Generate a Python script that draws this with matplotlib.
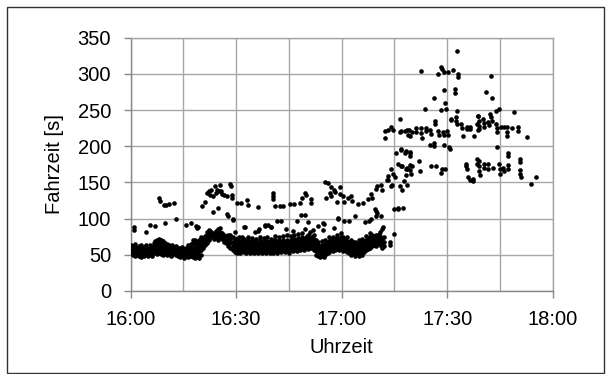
import matplotlib
matplotlib.use("Agg")
import matplotlib.pyplot as plt
from matplotlib.patches import Rectangle
import datetime as dt

# ---------------- data (minutes after 16:00, travel time in s) ----------------
# lower band: stacked measurements (minute, list of travel times)
lower_t = [0.2, 0.7, 1.2, 1.8, 2.3, 2.9, 3.4, 3.9, 4.4, 5.0, 5.5, 6.0, 6.6, 7.1, 7.6, 8.2, 8.7, 9.2,
           9.8, 10.3, 10.8, 11.4, 11.9, 12.5, 13.0, 13.5, 14.1, 14.6, 15.2, 15.7, 16.3, 16.8, 17.3,
           17.9, 18.4, 19.0, 19.5, 20.0, 20.6, 21.2, 21.8, 22.4, 23.0, 23.6, 24.2, 24.8, 25.4, 26.0,
           26.6, 27.2, 27.8, 28.4, 29.0, 29.6, 30.2, 30.7, 31.2, 31.8, 32.3, 32.9, 33.4, 34.0, 34.5,
           35.1, 35.6, 36.2, 36.7, 37.3, 37.8, 38.4, 38.9, 39.5, 40.0, 40.6, 41.1, 41.7, 42.2, 42.8,
           43.3, 43.9, 44.4, 45.0, 45.5, 46.1, 46.6, 47.2, 47.7, 48.3, 48.8, 49.4, 49.9, 50.5, 51.0,
           51.6, 52.1, 52.7, 53.2, 53.8, 54.3, 54.9, 55.4, 56.0, 56.5, 57.1, 57.6, 58.2, 58.7, 59.3,
           59.8, 60.4, 60.9, 61.5, 62.0, 62.6, 63.1, 63.7, 64.2, 64.8, 65.3, 65.9, 66.4, 67.0, 67.5,
           68.1, 68.6, 69.2, 69.7, 70.3, 70.8, 71.4, 71.9, 73.6, 74.9]
lower_v = [[52, 56, 60, 63], [50, 54, 58, 62], [49, 53, 57, 61, 65], [50, 55, 59], [48, 52, 57, 62],
           [47, 51, 56, 60, 64], [50, 54, 58], [49, 53, 57, 61], [51, 56, 60, 64], [48, 53, 58],
           [50, 55, 60, 63], [49, 53, 57, 61], [52, 57, 62, 66], [54, 59, 64, 69], [51, 56, 61, 66, 70],
           [52, 57, 62, 68, 72], [51, 55, 60, 65, 70], [50, 54, 59, 64, 69], [52, 56, 61, 66],
           [50, 55, 60, 65], [51, 56, 61, 64], [49, 53, 58, 62], [50, 55, 60, 63], [52, 57, 61],
           [50, 54, 58, 62], [48, 53, 57, 60], [47, 51, 55, 59], [49, 53, 57, 61], [46, 50, 54, 58],
           [48, 52, 56, 60], [47, 51, 55, 59, 63], [49, 53, 57, 62], [48, 52, 57, 61, 65],
           [47, 51, 55, 60, 66, 70], [46, 50, 55, 60, 65, 70], [48, 53, 58, 63, 68],
           [45, 50, 55, 60, 65, 70], [50, 56, 62, 68, 74], [60, 66, 72], [64, 70, 76], [66, 72, 78, 82],
           [70, 76, 80, 84], [74, 78, 82], [72, 77, 80], [75, 79, 83], [70, 76, 80, 86], [74, 78, 82],
           [72, 76, 80], [68, 74, 78], [66, 72, 76], [62, 68, 74, 78], [60, 66, 72, 77], [56, 62, 68, 74],
           [54, 60, 66, 72], [53, 57, 62, 67, 72], [54, 59, 64, 69, 74], [53, 58, 63, 68],
           [55, 60, 65, 70, 75], [54, 58, 63, 68, 72], [53, 57, 62, 67], [55, 60, 65, 70, 74],
           [53, 58, 63, 68], [54, 59, 64, 69, 73], [52, 57, 62, 67], [54, 58, 63, 68, 72],
           [53, 57, 62, 66], [55, 60, 65, 70, 75], [53, 58, 62, 67], [54, 59, 64, 69, 73],
           [52, 57, 61, 66], [55, 60, 64, 69, 74], [53, 57, 62, 67], [54, 59, 63, 68, 72],
           [52, 57, 62, 66, 71], [55, 60, 65, 70, 76], [53, 58, 63, 68], [55, 60, 65, 70, 74],
           [54, 58, 63, 67], [56, 61, 66, 71, 76], [54, 59, 64, 68], [55, 60, 65, 70, 78],
           [53, 58, 63, 68], [56, 61, 66, 71, 76], [55, 60, 65, 70], [57, 62, 67, 72, 77],
           [55, 60, 66, 71], [58, 63, 68, 73, 79], [56, 61, 66, 72], [58, 63, 69, 74, 80],
           [57, 62, 67, 72], [59, 64, 69, 75], [58, 63, 68, 73, 78], [60, 65, 70, 75, 81],
           [59, 64, 69, 74], [57, 62, 67, 72, 78], [50, 55, 60, 65, 70], [48, 53, 58, 63, 68],
           [47, 52, 57, 62], [49, 54, 59, 64, 69], [47, 52, 57, 62], [50, 55, 60, 65, 70],
           [52, 57, 62, 67], [54, 59, 64, 69, 74], [56, 61, 66, 71], [55, 60, 65, 70, 75],
           [57, 62, 67, 72], [58, 63, 68, 73, 78], [56, 61, 66, 71], [58, 63, 68, 74, 80],
           [55, 60, 65, 70, 75], [57, 62, 67, 72], [54, 59, 64, 69, 74], [52, 57, 62, 67],
           [50, 55, 60, 65, 70], [53, 58, 63, 68], [48, 53, 58, 63, 68], [51, 56, 61, 66],
           [48, 53, 58, 63, 70], [52, 57, 62, 67], [50, 55, 60, 65, 72], [54, 59, 64, 69],
           [56, 61, 66, 71, 76], [58, 63, 68, 73], [60, 65, 70, 75, 80], [62, 67, 72, 77],
           [64, 70, 76], [62, 68, 74, 78], [66, 72, 78], [64, 70, 76, 82], [60, 66, 72], [62, 68, 74],
           [63, 67], [79]]

# middle band (about 80-115 s)
mid_t = [1.0, 1.05, 4.3, 5.5, 6.9, 9.9, 12.9, 15.9, 17.3, 18.7, 19.2, 18.9, 22.5, 22.6, 25.4, 29.8,
         32.2, 32.5, 35.5, 36.1, 36.6, 38.1, 38.2, 39.0, 39.9, 23.5, 24.9, 27.5, 27.6, 29.1, 29.2,
         40.0, 41.5, 42.9, 44.3, 46.3, 47.4, 48.5, 49.7, 50.5, 49.5, 51.9, 53.3, 54.7, 54.7, 57.8,
         59.0, 59.0, 60.8, 62.2, 63.7, 66.5, 67.9, 69.4, 69.8, 69.8, 71.7, 71.5, 75.0, 75.9, 76.1,
         77.4, 55.0, 68.4, 70.1, 71.2]
mid_v = [88, 84, 82, 91, 90, 94, 99, 91, 94, 90, 88, 87, 83, 80, 87, 81,
         88, 89, 82, 83, 85, 91, 90, 91, 88, 109, 115, 106, 104, 100, 98,
         88, 97, 96, 86, 83, 97, 105, 105, 95, 85, 84, 90, 94, 84, 87,
         99, 101, 97, 97, 104, 95, 97, 113, 111, 104, 88, 86, 113, 113, 114,
         114, 92, 99, 108, 103]

# upper band before 17:20 (about 115-200 s)
up_t = [8.1, 8.3, 9.5, 10.9, 12.4, 10.2,
        20.2, 21.3, 21.6, 22.3, 22.7, 23.0, 23.5, 24.0, 24.2, 24.5, 25.1, 25.4, 25.7, 26.0, 26.5,
        27.3, 28.4, 28.5, 28.8, 28.9, 30.3, 31.5, 33.2, 33.4, 36.2,
        40.5, 40.5, 40.6, 41.0, 42.4, 43.3, 45.2, 46.5, 48.1, 48.6, 49.7, 49.8, 51.2, 51.2,
        55.2, 56.1, 56.6, 57.0, 57.1, 57.9, 58.0, 58.7, 55.6,
        59.4, 59.4, 60.4, 60.8, 61.7, 62.7, 62.8, 64.6, 66.1, 67.5, 68.4, 68.6, 69.8, 70.0, 71.2, 71.5,
        73.1, 73.1, 74.1, 74.3, 74.5, 76.0, 76.5, 77.0, 78.3, 78.3, 78.5,
        72.8, 73.9, 75.2, 77.2, 77.7, 78.6,
        75.5, 76.9, 78.3, 77.0, 79.4, 78.0, 77.2, 78.6, 79.9]
up_v = [128, 124, 119, 120, 122, 119,
        118, 123, 136, 138, 133, 139, 131, 145, 136, 140, 138, 147, 138, 134, 132,
        131, 148, 145, 133, 128, 122, 122, 126, 119, 116,
        136, 131, 127, 118, 118, 118, 120, 120, 122, 128, 136, 132, 127, 122,
        151, 149, 136, 144, 131, 140, 137, 123, 129,
        143, 134, 131, 123, 129, 131, 125, 120, 122, 127, 134, 129, 141, 145, 147, 140,
        159, 154, 168, 147, 161, 175, 145, 173, 168, 160, 170,
        154, 145, 158, 140, 152, 147,
        191, 196, 194, 195, 191, 190, 172, 168, 172]

# congested band 17:12-17:55 (about 210-250 s)
jam_t = [72.2, 72.2, 73.1, 74.1, 74.5, 76.5, 76.6, 77.0, 77.9, 78.5, 78.8,
         79.2, 79.4, 80.0, 81.0, 81.2, 82.5, 82.6, 82.8, 84.0, 84.1, 85.0, 85.3, 86.5, 86.6, 87.5,
         87.6, 88.8, 89.0, 90.0, 90.1, 91.0, 91.2, 92.5, 92.6, 92.7, 94.0, 94.2, 94.5, 95.5, 95.7,
         96.5, 96.6, 97.5, 98.6, 98.7,
         98.8, 98.9, 99.0, 99.0, 100.3, 100.4, 100.4, 101.7, 101.8, 102.2, 102.4, 102.6, 104.0,
         104.1, 104.1, 105.2, 106.0, 107.0, 107.1, 107.1, 108.4, 110.0, 110.1, 112.7]
jam_v = [212, 221, 223, 226, 223, 237, 219, 221, 221, 223, 216,
         223, 214, 219, 225, 220, 225, 218, 211, 225, 221, 222, 217, 235, 230, 221,
         216, 220, 216, 221, 216, 238, 236, 240, 235, 230, 230, 225, 214, 226, 224,
         227, 224, 214, 230, 222,
         242, 235, 228, 224, 237, 232, 227, 233, 229, 244, 240, 235, 230,
         225, 220, 227, 227, 226, 220, 214, 225, 226, 221, 213]

# peak values (above 245 s)
peak_t = [82.6, 87.3, 88.3, 88.4, 89.2, 90.2, 91.6, 93.0, 93.1, 92.8, 89.2, 92.1, 92.1, 86.2, 89.5,
          83.7, 88.3, 89.7, 92.8, 98.7, 102.3, 101.0, 102.7, 104.6, 104.0, 108.9]
peak_v = [304, 300, 310, 307, 303, 302, 305, 300, 296, 332, 277, 279, 273, 266, 260,
          251, 250, 251, 248, 242, 297, 275, 267, 251, 249, 247]

# second band after 17:18 (about 150-205 s)
low2_t = [79.3, 79.4, 79.3, 79.5, 79.6, 82.0, 82.4, 85.0, 86.2, 86.3, 85.3, 86.8, 88.3, 88.4, 89.5,
          89.2, 90.6, 90.8, 95.3, 95.4, 95.5, 96.0, 96.5, 97.2, 97.3, 98.5, 98.6,
          104.2, 107.2, 107.3, 110.6, 110.7, 99.0, 99.1, 99.1, 99.2, 100.4, 100.5, 101.5, 101.6,
          103.0, 104.8, 104.9, 104.9, 105.9, 106.0, 107.3, 107.4, 110.7, 110.8, 110.9, 113.8, 115.2]
low2_v = [192, 187, 174, 167, 161, 180, 166, 201, 205, 200, 173, 172, 163, 169, 169,
          201, 199, 196, 176, 172, 169, 157, 153, 155, 152, 182, 176,
          199, 190, 186, 182, 178, 180, 172, 166, 160, 176, 170, 175, 168,
          170, 175, 168, 162, 170, 166, 174, 168, 167, 162, 157, 148, 158]

y_ticks = [0, 50, 100, 150, 200, 250, 300, 350]
x_tick_labels = ["16:00", "16:30", "17:00", "17:30", "18:00"]

# ---------------- assemble ----------------
xs, ys = [], []
for t, vals in zip(lower_t, lower_v):
    for v in vals:
        xs.append(t)
        ys.append(v)
for tl, vl in [(mid_t, mid_v), (up_t, up_v), (jam_t, jam_v), (peak_t, peak_v), (low2_t, low2_v)]:
    xs.extend(tl)
    ys.extend(vl)

start = dt.datetime(2000, 1, 1, 16, 0)
times = [start + dt.timedelta(minutes=m) for m in xs]

plt.rcParams['font.family'] = ['Liberation Sans', 'DejaVu Sans']

fig = plt.figure(figsize=(6.06, 3.74), dpi=100)
ax = fig.add_axes([130.5 / 606, 1 - 291 / 374, (552.8 - 130.5) / 606, (291 - 37.6) / 374])

ax.scatter(times, ys, s=11, color='black', linewidths=0, zorder=3)

ax.set_xlim(start, start + dt.timedelta(minutes=120))
ax.set_ylim(0, 350)
ax.set_yticks(y_ticks)
major = [start + dt.timedelta(minutes=30 * i) for i in range(5)]
ax.set_xticks(major)
ax.set_xticklabels(x_tick_labels)
ax.set_xticks([start + dt.timedelta(minutes=15 + 30 * i) for i in range(4)], minor=True)

gc = '#a6a6a6'
ax.grid(True, which='both', color=gc, linewidth=1.0, zorder=0)
ax.set_axisbelow(True)
for side in ['top', 'right']:
    ax.spines[side].set_color(gc)
    ax.spines[side].set_linewidth(1.0)
for side in ['left', 'bottom']:
    ax.spines[side].set_color('#888888')
    ax.spines[side].set_linewidth(1.0)

ax.tick_params(axis='both', which='major', labelsize=14.5, length=5, width=1.0,
               color='#888888', pad=9)
ax.tick_params(axis='x', which='minor', length=0)
ax.set_xlabel('Uhrzeit', fontsize=14.5, labelpad=6)
ax.set_ylabel('Fahrzeit [s]', fontsize=14.5, labelpad=10)

fig.patches.append(Rectangle((7 / 606, 1 / 374), 597 / 606, 366 / 374, transform=fig.transFigure,
                             fill=False, edgecolor='#333333', linewidth=1.0))

fig.savefig('out.png', dpi=100)
